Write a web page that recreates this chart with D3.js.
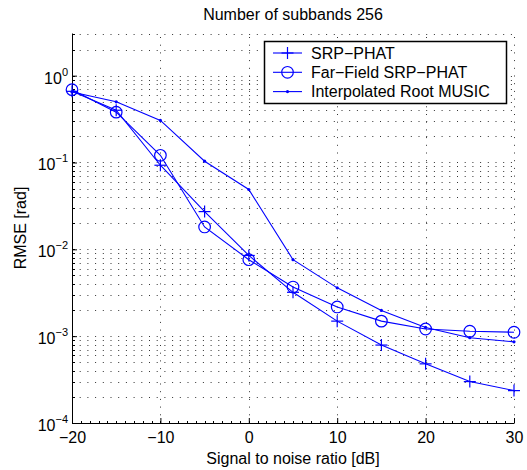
<!DOCTYPE html>
<html>
<head>
<meta charset="utf-8">
<script src="https://cdn.jsdelivr.net/npm/d3@7"></script>
<style>
  body { margin: 0; background: #fff; }
  svg { font-family: "Liberation Sans", Arial, sans-serif; }
</style>
</head>
<body>
<div id="chart"></div>
<script>
var snr = [-20, -15, -10, -5, 0, 5, 10, 15, 20, 25, 30];
var srpPhat = [0.66, 0.40, 0.093, 0.0272, 0.0085, 0.0032, 0.00149, 0.00079, 0.00048, 0.00030, 0.000236];
var farField = [0.69, 0.38, 0.121, 0.0181, 0.0076, 0.00368, 0.00217, 0.00149, 0.00121, 0.00114, 0.00111];
var rootMusic = [0.65, 0.50, 0.305, 0.1035, 0.0489, 0.0076, 0.0036, 0.00198, 0.00126, 0.00096, 0.00086];
var seriesNames = ["SRP\u2212PHAT", "Far\u2212Field SRP\u2212PHAT", "Interpolated Root MUSIC"];
var xTicks = [-20, -10, 0, 10, 20, 30];
var yDecades = [-4, -3, -2, -1, 0];

var width = 527, height = 470;
var margin = { top: 33, right: 13, bottom: 47, left: 72 };
var color = "#0000ff";

var svg = d3.select("#chart").append("svg")
  .attr("width", width)
  .attr("height", height);

var xScale = d3.scaleLinear()
  .domain([-20, 30])
  .range([margin.left, width - margin.right]);

var yScale = d3.scaleLog()
  .domain([1e-4, 3.1])
  .range([height - margin.bottom, margin.top]);

var x0 = margin.left, x1 = width - margin.right;
var y0 = height - margin.bottom, y1 = margin.top;

// minor log grid values
var yMinor = [];
yDecades.forEach(function(p) {
  for (var k = 1; k < 10; k++) {
    var v = k * Math.pow(10, p);
    if (v <= 3.1) yMinor.push(v);
  }
});

var grid = svg.append("g")
  .attr("stroke", "#333")
  .attr("stroke-width", 1)
  .attr("stroke-dasharray", "1,6.7");

grid.selectAll("line.h")
  .data(yMinor.filter(function(v) { return v > 1e-4; }))
  .enter().append("line")
  .attr("class", "h")
  .attr("x1", x0).attr("x2", x1)
  .attr("y1", function(d) { return Math.round(yScale(d)) + 0.5; })
  .attr("y2", function(d) { return Math.round(yScale(d)) + 0.5; });

grid.selectAll("line.v")
  .data(xTicks.filter(function(v) { return v > -20; }))
  .enter().append("line")
  .attr("class", "v")
  .attr("y1", y0).attr("y2", y1)
  .attr("x1", function(d) { return Math.round(xScale(d)) + 0.5; })
  .attr("x2", function(d) { return Math.round(xScale(d)) + 0.5; });

// axes (left and bottom only, ticks pointing inward)
var xAxis = svg.append("g")
  .attr("transform", "translate(0," + y0 + ")")
  .call(d3.axisBottom(xScale).tickValues(xTicks).tickSizeInner(-5).tickSizeOuter(0)
    .tickFormat(function(d) { return d < 0 ? "\u2212" + (-d) : d; }));
xAxis.select(".domain").attr("stroke", "#000");
xAxis.selectAll("text").attr("font-size", 16).attr("fill", "#000").attr("dy", "1.05em")
  .attr("font-family", "Liberation Sans, Arial, sans-serif");

svg.append("g").attr("stroke", "#000")
  .selectAll("line")
  .data(d3.range(-20, 31, 1))
  .enter().append("line")
  .attr("x1", function(d) { return Math.round(xScale(d)) + 0.5; })
  .attr("x2", function(d) { return Math.round(xScale(d)) + 0.5; })
  .attr("y1", y0).attr("y2", y0 - 2);

var yAxis = svg.append("g")
  .attr("transform", "translate(" + x0 + ",0)")
  .call(d3.axisLeft(yScale).tickValues(yDecades.map(function(p) { return Math.pow(10, p); }))
    .tickSizeInner(-5).tickSizeOuter(0).tickFormat(""));
yAxis.select(".domain").attr("stroke", "#000");

svg.append("g").attr("stroke", "#000")
  .selectAll("line")
  .data(yMinor)
  .enter().append("line")
  .attr("x1", x0).attr("x2", x0 + 3)
  .attr("y1", function(d) { return Math.round(yScale(d)) + 0.5; })
  .attr("y2", function(d) { return Math.round(yScale(d)) + 0.5; });

var yLabels = svg.append("g")
  .attr("font-size", 16)
  .attr("text-anchor", "end");
yDecades.forEach(function(p) {
  var t = yLabels.append("text")
    .attr("x", x0 - 4)
    .attr("y", yScale(Math.pow(10, p)) + 8);
  t.append("tspan").text("10");
  t.append("tspan").attr("font-size", 11).attr("dy", -8)
    .text(p < 0 ? "\u2212" + (-p) : p);
});

// series
var lineGen = d3.line()
  .x(function(d) { return xScale(d[0]); })
  .y(function(d) { return yScale(d[1]); });

function pairs(vals) {
  return snr.map(function(s, i) { return [s, vals[i]]; });
}

var allSeries = [srpPhat, farField, rootMusic];
var markers = ["plus", "circle", "dot"];

function drawMarker(g, type, cx, cy) {
  if (type === "plus") {
    g.append("line").attr("x1", cx - 6).attr("x2", cx + 6).attr("y1", cy).attr("y2", cy)
      .attr("stroke", color).attr("stroke-width", 1.2);
    g.append("line").attr("x1", cx).attr("x2", cx).attr("y1", cy - 6).attr("y2", cy + 6)
      .attr("stroke", color).attr("stroke-width", 1.2);
  } else if (type === "circle") {
    g.append("circle").attr("cx", cx).attr("cy", cy).attr("r", 5.8)
      .attr("fill", "none").attr("stroke", color).attr("stroke-width", 1.2);
  } else {
    g.append("circle").attr("cx", cx).attr("cy", cy).attr("r", 1.6)
      .attr("fill", color);
  }
}

allSeries.forEach(function(vals, i) {
  var g = svg.append("g");
  g.append("path")
    .datum(pairs(vals))
    .attr("d", lineGen)
    .attr("fill", "none")
    .attr("stroke", color)
    .attr("stroke-width", 1.1);
  pairs(vals).forEach(function(d) {
    drawMarker(g, markers[i], xScale(d[0]), yScale(d[1]));
  });
});

// legend
var legend = svg.append("g");
legend.append("rect")
  .attr("x", 264.5).attr("y", 41.5)
  .attr("width", 242).attr("height", 62)
  .attr("fill", "#fff").attr("stroke", "#000").attr("stroke-width", 1.5);
seriesNames.forEach(function(name, i) {
  var ly = 53 + i * 19.3;
  legend.append("line").attr("x1", 273).attr("x2", 302).attr("y1", ly).attr("y2", ly)
    .attr("stroke", color).attr("stroke-width", 1.1);
  drawMarker(legend, markers[i], 287.5, ly);
  legend.append("text").attr("x", 311).attr("y", ly + 5.5)
    .attr("font-size", 16).text(name);
});

// titles
svg.append("text")
  .attr("x", (x0 + x1) / 2).attr("y", 20)
  .attr("text-anchor", "middle").attr("font-size", 16)
  .text("Number of subbands 256");

svg.append("text")
  .attr("x", (x0 + x1) / 2).attr("y", 464)
  .attr("text-anchor", "middle").attr("font-size", 16)
  .text("Signal to noise ratio [dB]");

svg.append("text")
  .attr("transform", "translate(26," + ((y0 + y1) / 2) + ") rotate(-90)")
  .attr("text-anchor", "middle").attr("font-size", 16)
  .text("RMSE [rad]");
</script>
</body>
</html>
